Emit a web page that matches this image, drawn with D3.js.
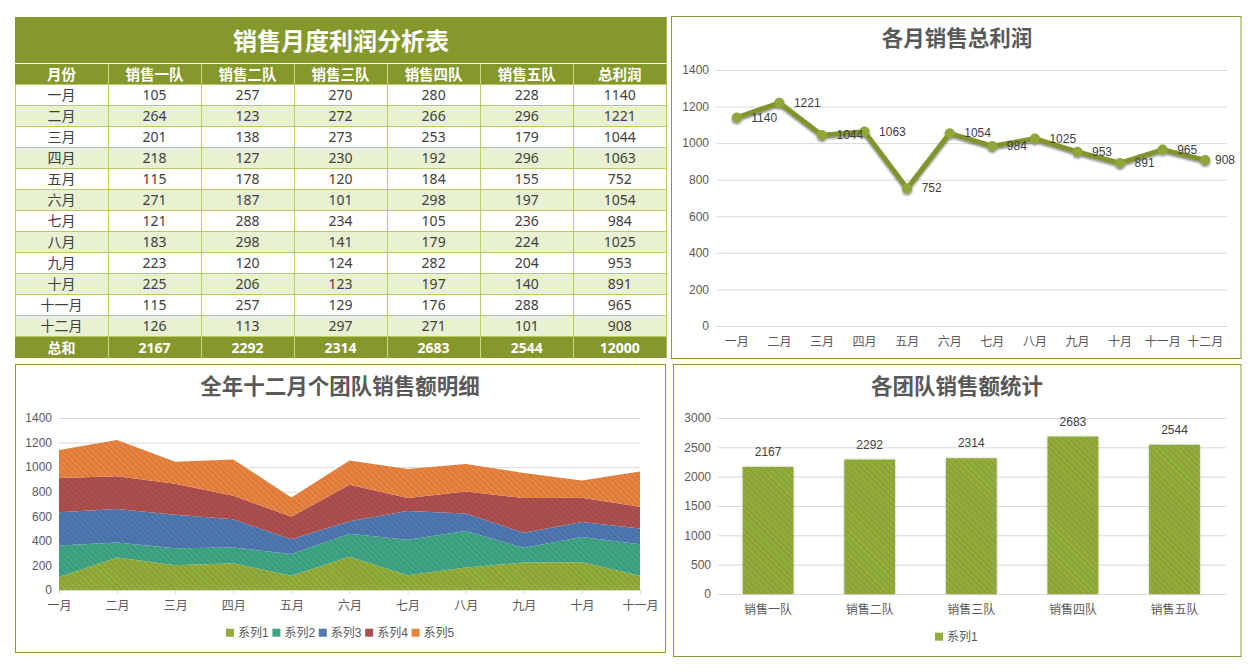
<!DOCTYPE html>
<html>
<head>
<meta charset="utf-8">
<title>销售月度利润分析表</title>
<script src="https://cdn.jsdelivr.net/npm/d3@7"></script>
<style>
html,body{margin:0;padding:0;background:#fff;}
svg{display:block;}
text{font-family:"Liberation Sans","Noto Sans CJK SC",sans-serif;}
.tbl text{font-family:"Noto Sans","Noto Sans CJK SC",sans-serif;}
.title{font-family:"Liberation Sans","Noto Sans CJK SC",sans-serif;font-weight:bold;font-size:21.5px;fill:#595959;text-anchor:middle;dominant-baseline:central;}
.axis text{font-size:12px;fill:#595959;}
.axis .tick line{stroke:#d9d9d9;}
.axis .domain{stroke:#d9d9d9;}
.lbl{font-size:12px;fill:#404040;dominant-baseline:central;}
</style>
</head>
<body>
<div id="chart"></div>
<script>
var months = ['一月','二月','三月','四月','五月','六月','七月','八月','九月','十月','十一月','十二月'];
var teams = ['销售一队','销售二队','销售三队','销售四队','销售五队'];
var team1 = [105,264,201,218,115,271,121,183,223,225,115,126];
var team2 = [257,123,138,127,178,187,288,298,120,206,257,113];
var team3 = [270,272,273,230,120,101,234,141,124,123,129,297];
var team4 = [280,266,253,192,184,298,105,179,282,197,176,271];
var team5 = [228,296,179,296,155,197,236,224,204,140,288,101];
var month_totals = [1140,1221,1044,1063,752,1054,984,1025,953,891,965,908];
var team_totals = [2167,2292,2314,2683,2544];
var grand_total = 12000;
var table_title = '销售月度利润分析表';
var header_labels = ['月份','销售一队','销售二队','销售三队','销售四队','销售五队','总利润'];
var total_label = '总和';
var series_names = ['系列1','系列2','系列3','系列4','系列5'];
var series_colors = ['#93ad3b','#40a585','#4f77b0','#ae4f4f','#e88340'];
var line_ticks = [0,200,400,600,800,1000,1200,1400];
var bar_ticks = [0,500,1000,1500,2000,2500,3000];

var OLIVE = '#85982b';
var BORDER = '#8c9a3c';

var svg = d3.select('#chart').append('svg').attr('width',1257).attr('height',672);
var defs = svg.append('defs');

function add_hatch(id,color){
    var p = defs.append('pattern')
        .attr('id',id)
        .attr('width',4.2).attr('height',4.2)
        .attr('patternUnits','userSpaceOnUse')
        .attr('patternTransform','rotate(-45)');
    p.append('rect').attr('width',4.2).attr('height',4.2).attr('fill',color);
    p.append('rect').attr('width',1.6).attr('height',4.2).attr('fill','#000').attr('opacity',0.07);
}
series_colors.forEach(function(c,i){ add_hatch('hatch'+i,c); });

var shadow = defs.append('filter').attr('id','shadow')
    .attr('x','-10%').attr('y','-20%').attr('width','120%').attr('height','140%');
shadow.append('feDropShadow').attr('dx',0).attr('dy',1.8).attr('stdDeviation',1.3)
    .attr('flood-color','#000').attr('flood-opacity',0.5);
var bar_shadow = defs.append('filter').attr('id','bar_shadow')
    .attr('x','-10%').attr('y','-10%').attr('width','120%').attr('height','120%');
bar_shadow.append('feDropShadow').attr('dx',0).attr('dy',0).attr('stdDeviation',1)
    .attr('flood-color','#000').attr('flood-opacity',0.25);

function add_panel(x,y,w,h){
    svg.append('rect').attr('x',x+0.5).attr('y',y+0.5).attr('width',w).attr('height',h)
        .attr('fill','#fff').attr('stroke',BORDER).attr('stroke-width',1);
}

function add_y_axis(scale,ticks,left,right){
    var g = svg.append('g').attr('class','axis').attr('transform','translate('+left+',0)')
        .call(d3.axisLeft(scale).tickValues(ticks).tickSize(left-right).tickPadding(7).tickFormat(d3.format('d')));
    g.select('.domain').remove();
    return g;
}

function add_legend(names,colors,x,y,step){
    var g = svg.append('g').selectAll('g').data(names).enter().append('g')
        .attr('transform',function(d,i){return 'translate('+(x+i*step)+','+y+')';});
    g.append('rect').attr('x',0).attr('y',-4).attr('width',8).attr('height',8)
        .attr('fill',function(d,i){return colors[i];});
    g.append('text').attr('x',12).attr('class','lbl').style('font-size','12px').style('fill','#595959')
        .text(function(d){return d;});
}

function draw_table(){
    var g = svg.append('g').attr('class','tbl');
    var x = d3.scaleLinear().domain([0,7]).range([15,666.2]);
    var y = d3.scaleLinear().domain([0,12]).range([84,336]);
    var cols = d3.range(7);

    g.append('rect').attr('x',15).attr('y',17).attr('width',651.7).attr('height',46).attr('fill',OLIVE);
    g.append('text').attr('x',341).attr('y',40.5)
        .attr('text-anchor','middle').attr('dominant-baseline','central')
        .attr('fill','#fff').style('font-weight','bold').style('font-size','24px')
        .text(table_title);

    g.append('rect').attr('x',15).attr('y',64).attr('width',651.7).attr('height',20).attr('fill',OLIVE);
    g.selectAll('.hd').data(header_labels).enter().append('text')
        .attr('class','hd')
        .attr('x',function(d,i){return x(i+0.5);}).attr('y',74)
        .attr('text-anchor','middle').attr('dominant-baseline','central')
        .attr('fill','#fff').style('font-weight','bold').style('font-size','14.5px')
        .text(function(d){return d;});

    var rows = months.map(function(m,i){
        return [m,team1[i],team2[i],team3[i],team4[i],team5[i],month_totals[i]];
    });
    g.selectAll('.band').data(rows).enter().append('rect')
        .attr('class','band')
        .attr('x',15).attr('y',function(d,i){return y(i);})
        .attr('width',651.7).attr('height',21)
        .attr('fill',function(d,i){return i%2 ? '#e8f1d2' : '#fff';});

    rows.forEach(function(r,i){
        g.selectAll('.c'+i).data(r).enter().append('text')
            .attr('class','c'+i)
            .attr('x',function(d,j){return x(j+0.5);}).attr('y',y(i)+10.5)
            .attr('text-anchor','middle').attr('dominant-baseline','central')
            .attr('fill','#404040').style('font-size','14px')
            .text(function(d){return d;});
    });

    g.selectAll('.hl').data(d3.range(13)).enter().append('line')
        .attr('class','hl')
        .attr('x1',15).attr('x2',666.7)
        .attr('y1',function(d){return y(d)+0.5;}).attr('y2',function(d){return y(d)+0.5;})
        .attr('stroke','#b7cd5e');
    g.selectAll('.vl').data(d3.range(8)).enter().append('line')
        .attr('class','vl')
        .attr('x1',function(d){return Math.floor(x(d))+0.5;}).attr('x2',function(d){return Math.floor(x(d))+0.5;})
        .attr('y1',84).attr('y2',337)
        .attr('stroke','#b7cd5e');
    g.selectAll('.vh').data(cols.slice(1)).enter().append('line')
        .attr('class','vh')
        .attr('x1',function(d){return Math.floor(x(d))+0.5;}).attr('x2',function(d){return Math.floor(x(d))+0.5;})
        .attr('y1',64).attr('y2',84)
        .attr('stroke','#c9d98a');

    g.append('rect').attr('x',15).attr('y',337).attr('width',651.7).attr('height',21).attr('fill',OLIVE);
    var total_row = [total_label].concat(team_totals).concat([grand_total]);
    g.selectAll('.tt').data(total_row).enter().append('text')
        .attr('class','tt')
        .attr('x',function(d,i){return x(i+0.5);}).attr('y',347.5)
        .attr('text-anchor','middle').attr('dominant-baseline','central')
        .attr('fill','#fff').style('font-weight','bold').style('font-size','14px')
        .text(function(d){return d;});
    g.selectAll('.vt').data(cols.slice(1)).enter().append('line')
        .attr('class','vt')
        .attr('x1',function(d){return Math.floor(x(d))+0.5;}).attr('x2',function(d){return Math.floor(x(d))+0.5;})
        .attr('y1',337).attr('y2',358)
        .attr('stroke','#c9d98a');
}

function draw_line_chart(){
    add_panel(671,16,569.5,342);
    svg.append('text').attr('class','title').attr('x',957).attr('y',39).text('各月销售总利润');

    var y = d3.scaleLinear().domain([0,1400]).range([326,70]);
    var x = d3.scaleBand().domain(months).range([715.5,1226.5]);
    add_y_axis(y,line_ticks,716,1227);

    var ax = svg.append('g').attr('class','axis').attr('transform','translate(0,326)')
        .call(d3.axisBottom(x).tickSize(0).tickPadding(11));
    ax.select('.domain').remove();

    var cx = function(i){return x(months[i])+x.bandwidth()/2;};
    var line = d3.line().x(function(d,i){return cx(i);}).y(function(d){return y(d);});
    var g = svg.append('g').attr('filter','url(#shadow)');
    g.append('path').datum(month_totals).attr('d',line)
        .attr('fill','none').attr('stroke','#7f942a').attr('stroke-width',4.8).attr('stroke-linejoin','round');
    g.selectAll('circle').data(month_totals).enter().append('circle')
        .attr('cx',function(d,i){return cx(i);}).attr('cy',function(d){return y(d);})
        .attr('r',5).attr('fill','#8ea737');

    svg.selectAll('.linelbl').data(month_totals).enter().append('text')
        .attr('class','lbl linelbl')
        .attr('x',function(d,i){return Math.min(cx(i)+14.5,1215);})
        .attr('y',function(d){return y(d);})
        .text(function(d){return d;});
}

function draw_area_chart(){
    add_panel(15,364,650,288);
    svg.append('text').attr('class','title').attr('x',340).attr('y',387).text('全年十二月个团队销售额明细');

    var shown = months.slice(0,11);
    var y = d3.scaleLinear().domain([0,1400]).range([590,418]);
    var x = d3.scalePoint().domain(shown).range([59,640]);
    add_y_axis(y,line_ticks,59,640);

    var records = shown.map(function(m,i){
        return {month:m,s0:team1[i],s1:team2[i],s2:team3[i],s3:team4[i],s4:team5[i]};
    });
    var stack = d3.stack().keys(['s0','s1','s2','s3','s4']);
    var area = d3.area()
        .x(function(d){return x(d.data.month);})
        .y0(function(d){return y(d[0]);})
        .y1(function(d){return y(d[1]);});
    svg.append('g').selectAll('path').data(stack(records)).enter().append('path')
        .attr('d',area)
        .attr('fill',function(d,i){return 'url(#hatch'+i+')';});

    var ax = svg.append('g').attr('class','axis').attr('transform','translate(0,590)')
        .call(d3.axisBottom(x).tickSize(4).tickPadding(7).tickSizeOuter(0));
    ax.select('.domain').attr('stroke','#d9d9d9');

    add_legend(series_names,series_colors,226,632.7,46.4);
}

function draw_bar_chart(){
    add_panel(673,364,567.5,292);
    svg.append('text').attr('class','title').attr('x',957).attr('y',387).text('各团队销售额统计');

    var y = d3.scaleLinear().domain([0,3000]).range([594,418]);
    var x = d3.scaleBand().domain(teams).range([717.3,1225.3]).paddingInner(0.5).paddingOuter(0.25);
    add_y_axis(y,bar_ticks,718,1226);

    var ax = svg.append('g').attr('class','axis').attr('transform','translate(0,594)')
        .call(d3.axisBottom(x).tickSize(0).tickPadding(11));
    ax.select('.domain').remove();

    svg.append('g').attr('filter','url(#bar_shadow)')
        .selectAll('rect').data(team_totals).enter().append('rect')
        .attr('x',function(d,i){return x(teams[i]);})
        .attr('y',function(d){return y(d);})
        .attr('width',x.bandwidth())
        .attr('height',function(d){return y(0)-y(d);})
        .attr('fill','url(#hatch0)');

    svg.selectAll('.barlbl').data(team_totals).enter().append('text')
        .attr('class','lbl barlbl')
        .attr('text-anchor','middle')
        .attr('x',function(d,i){return x(teams[i])+x.bandwidth()/2;})
        .attr('y',function(d){return y(d)-15;})
        .text(function(d){return d;});

    add_legend(['系列1'],[series_colors[0]],935,636.7,0);
}

draw_table();
draw_line_chart();
draw_area_chart();
draw_bar_chart();
</script>
</body>
</html>
